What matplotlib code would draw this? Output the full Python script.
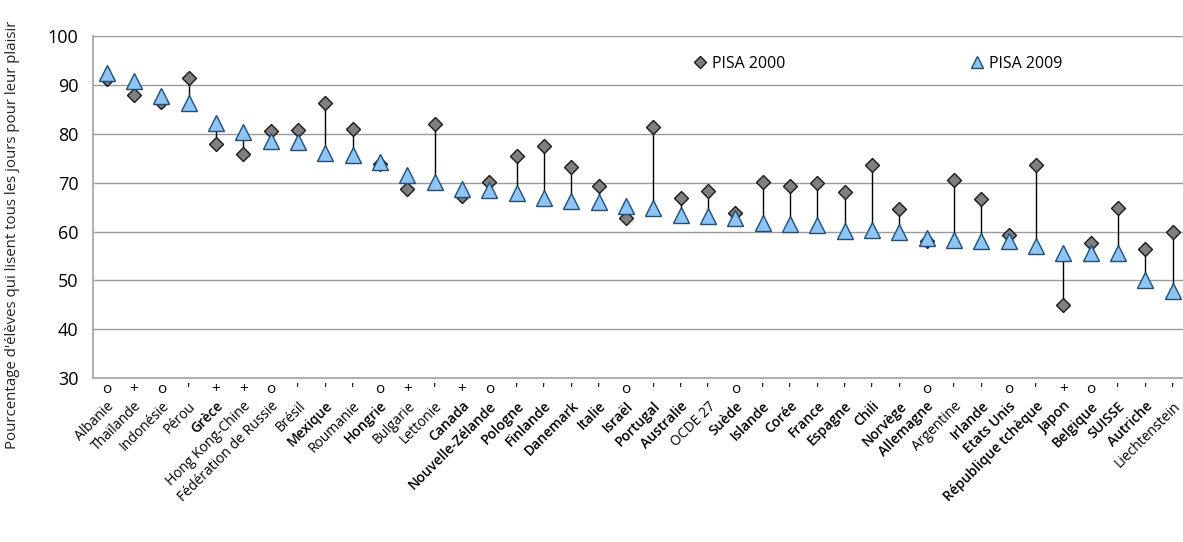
import matplotlib
matplotlib.use("Agg")
import matplotlib.pyplot as plt
import matplotlib.transforms as mtransforms

countries = ["Albanie", "Thaïlande", "Indonésie", "Pérou", "Grèce", "Hong Kong-Chine",
             "Fédération de Russie", "Brésil", "Mexique", "Roumanie", "Hongrie", "Bulgarie",
             "Lettonie", "Canada", "Nouvelle-Zélande", "Pologne", "Finlande", "Danemark",
             "Italie", "Israël", "Portugal", "Australie", "OCDE 27", "Suède", "Islande",
             "Corée", "France", "Espagne", "Chili", "Norvège", "Allemagne", "Argentine",
             "Irlande", "Etats Unis", "République tchèque", "Japon", "Belgique", "SUISSE",
             "Autriche", "Liechtenstein"]
oecd = [0, 0, 0, 0, 1, 0, 0, 0, 1, 0, 1, 0, 0, 1, 1, 1, 1, 1, 1, 1, 1, 1, 0, 1, 1,
        1, 1, 1, 1, 1, 1, 0, 1, 1, 1, 1, 1, 1, 1, 0]
change = ["o", "+", "o", "'", "+", "+", "o", "'", "'", "'", "o", "+", "'", "+", "o",
          "'", "'", "'", "'", "o", "'", "'", "'", "o", "'", "'", "'", "'", "'", "'",
          "o", "'", "'", "o", "'", "+", "o", "'", "'", "'"]
pisa2000 = [91.2, 88.1, 86.6, 91.5, 78.0, 76.0, 80.6, 80.8, 86.3, 81.0, 73.8, 68.7,
            82.0, 67.3, 70.2, 75.6, 77.5, 73.2, 69.3, 62.8, 81.5, 66.9, 68.4, 63.8,
            70.1, 69.4, 69.9, 68.2, 73.7, 64.6, 58.0, 70.6, 66.6, 59.3, 73.7, 44.9,
            57.7, 64.8, 56.5, 60.0]
pisa2009 = [92.5, 90.8, 87.8, 86.3, 82.3, 80.4, 78.6, 78.3, 76.2, 75.8, 74.2, 71.7,
            70.2, 68.8, 68.6, 67.9, 66.9, 66.3, 66.1, 65.3, 64.8, 63.4, 63.3, 62.7,
            61.7, 61.6, 61.4, 60.2, 60.3, 60.0, 58.6, 58.3, 58.1, 58.0, 57.1, 55.7,
            55.6, 55.6, 50.0, 47.8]

plt.rcParams["font.family"] = ["Open Sans", "DejaVu Sans"]

fig = plt.figure(figsize=(11.83, 5.42), dpi=100)
ax = fig.add_axes([0.0786, 0.3026, 0.93, 0.6301])

x = list(range(len(countries)))
ax.vlines(x, pisa2000, pisa2009, color="black", lw=1, zorder=2)
ax.plot(x, pisa2000, ls="none", marker="D", ms=7.5, mfc="#7f7f7f", mec="#1a1a1a",
        mew=1, zorder=3, label="PISA 2000")
ax.plot(x, pisa2009, ls="none", marker="^", ms=11, mfc="#8ec5f5", mec="#1f4e79",
        mew=1, zorder=4, label="PISA 2009")

ax.set_ylim(30, 100)
ax.set_xlim(-0.5, 39.75)
ax.set_yticks(range(30, 101, 10))
ax.yaxis.grid(True, color="#9a9a9a", lw=1)
ax.set_axisbelow(True)
for s in ["top", "right"]:
    ax.spines[s].set_visible(False)
for s in ["left", "bottom"]:
    ax.spines[s].set_color("#b0b0b0")
    ax.spines[s].set_linewidth(1.5)

ax.tick_params(axis="y", length=0, pad=10.5, labelsize=13)

ax.set_xticks(x)
ax.set_xticklabels(countries, rotation=45, ha="right", rotation_mode="anchor")
ax.tick_params(axis="x", length=0, pad=15, labelsize=10, labelcolor="black")
for t, o in zip(ax.get_xticklabels(), oecd):
    if o:
        t.set_fontweight("semibold")
    else:
        t.set_fontweight("normal")

trans = mtransforms.blended_transform_factory(ax.transData, ax.transAxes)
for xi, c in zip(x, change):
    ax.text(xi, -0.033, c, transform=trans, ha="center", va="center", fontsize=11)

ax.set_ylabel("Pourcentage d'élèves qui lisent tous les jours pour leur plaisir",
              fontsize=10.8, color="#222222")
ax.yaxis.set_label_coords(-0.0663, 0.4187)

ax.legend(loc="upper left", bbox_to_anchor=(0.531, 0.985), ncol=2, frameon=False,
          columnspacing=11.45, handletextpad=0.3, handlelength=1.0, markerscale=0.8,
          fontsize=11.5)

fig.savefig("out.png", dpi=100)
